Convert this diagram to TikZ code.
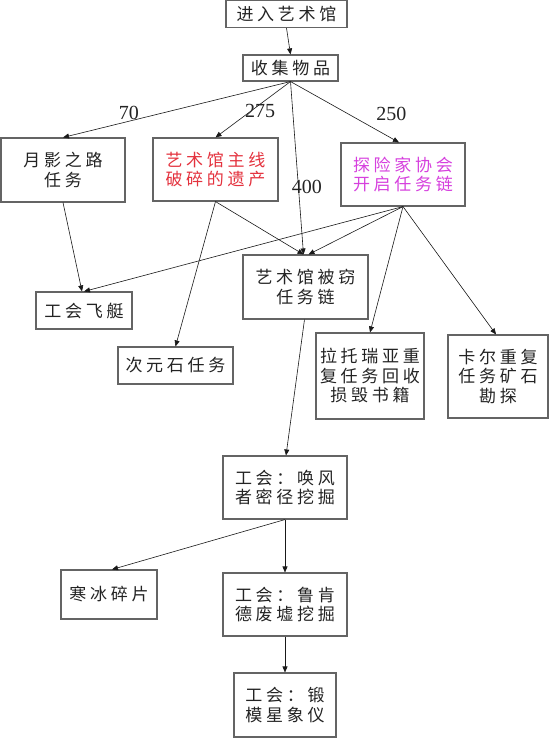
\documentclass[tikz,border=0pt]{standalone}
\usepackage{fontspec}
\setmainfont{Liberation Serif}
\newfontfamily\cjk[LetterSpace=22]{Noto Sans CJK SC}
\usetikzlibrary{arrows.meta}
\definecolor{redtxt}{RGB}{228,50,62}
\definecolor{magtxt}{RGB}{214,64,222}
\definecolor{boxline}{RGB}{100,100,100}
\definecolor{txt}{RGB}{35,35,35}
\begin{document}
\begin{tikzpicture}[x=1pt,y=-1pt,
  box/.style={draw=boxline, line width=1.1pt, inner sep=0pt, align=center,
    font=\cjk\fontsize{17}{19.5}\selectfont, text=txt},
  edge/.style={draw=black!90, line width=0.6pt, -{Triangle[length=6pt,width=5pt]}},
  lbl/.style={font=\fontsize{20}{20}\selectfont, inner sep=0pt, text=txt}]
\useasboundingbox[fill=white] (0,0) rectangle (550,738);

\node[box, minimum width=121pt, minimum height=27pt] (enter) at (286.5,14) {进入艺术馆};
\node[box, minimum width=95pt, minimum height=26pt] (collect) at (290.5,68) {收集物品};
\node[box, minimum width=124pt, minimum height=64pt] (moon) at (63,170) {月影之路\\任务};
\node[box, minimum width=125pt, minimum height=63pt, text=redtxt] (main) at (215.5,169.5) {艺术馆主线\\破碎的遗产};
\node[box, minimum width=124pt, minimum height=63pt, text=magtxt] (explore) at (403,174.5) {探险家协会\\开启任务链};
\node[box, minimum width=125pt, minimum height=64pt] (stolen) at (305.5,287) {艺术馆被窃\\任务链};
\node[box, minimum width=96pt, minimum height=37pt] (ship) at (84,310.5) {工会飞艇};
\node[box, minimum width=115pt, minimum height=37pt] (stone) at (175.5,365.5) {次元石任务};
\node[box, minimum width=108pt, minimum height=86pt] (lato) at (370,376) {拉托瑞亚重\\复任务回收\\损毁书籍};
\node[box, minimum width=100pt, minimum height=83pt] (karl) at (498,376.5) {卡尔重复\\任务矿石\\勘探};
\node[box, minimum width=124pt, minimum height=63pt] (wind) at (285,487.5) {工会：唤风\\者密径挖掘};
\node[box, minimum width=96pt, minimum height=49pt] (ice) at (109,594.5) {寒冰碎片};
\node[box, minimum width=124pt, minimum height=63pt] (luken) at (285,604.5) {工会：鲁肯\\德废墟挖掘};
\node[box, minimum width=102pt, minimum height=64pt] (forge) at (285,705) {工会：锻\\模星象仪};

\draw[edge] (enter.south) -- (collect.north);
\draw[edge] (collect.south) -- node[lbl, pos=0.71, yshift=8.5pt] {70} (moon.north);
\draw[edge] (collect.south) -- node[lbl, pos=0.526, xshift=9pt] {275} (main.north);
\draw[edge] (collect.south) -- node[lbl, pos=0.61, xshift=8.5pt] {400} ([xshift=-2pt]stolen.north);
\draw[edge] (collect.south) -- node[lbl, pos=0.8, xshift=14pt, yshift=16.5pt] {250} ([xshift=-4pt]explore.north);
\draw[edge] (moon.south) -- ([xshift=-2pt]ship.north);
\draw[edge] (main.south) -- (stone.north);
\draw[edge] (main.south) -- ([xshift=-2pt]stolen.north);
\draw[edge] (explore.south) -- (ship.north);
\draw[edge] (explore.south) -- ([xshift=3pt]stolen.north);
\draw[edge] (explore.south) -- (lato.north);
\draw[edge] (explore.south) -- ([xshift=-2pt]karl.north);
\draw[edge] ([xshift=-1pt]stolen.south) -- ([xshift=1pt]wind.north);
\draw[edge] (wind.south) -- ([xshift=3pt]ice.north);
\draw[edge] (wind.south) -- (luken.north);
\draw[edge] (luken.south) -- (forge.north);
\end{tikzpicture}
\end{document}
